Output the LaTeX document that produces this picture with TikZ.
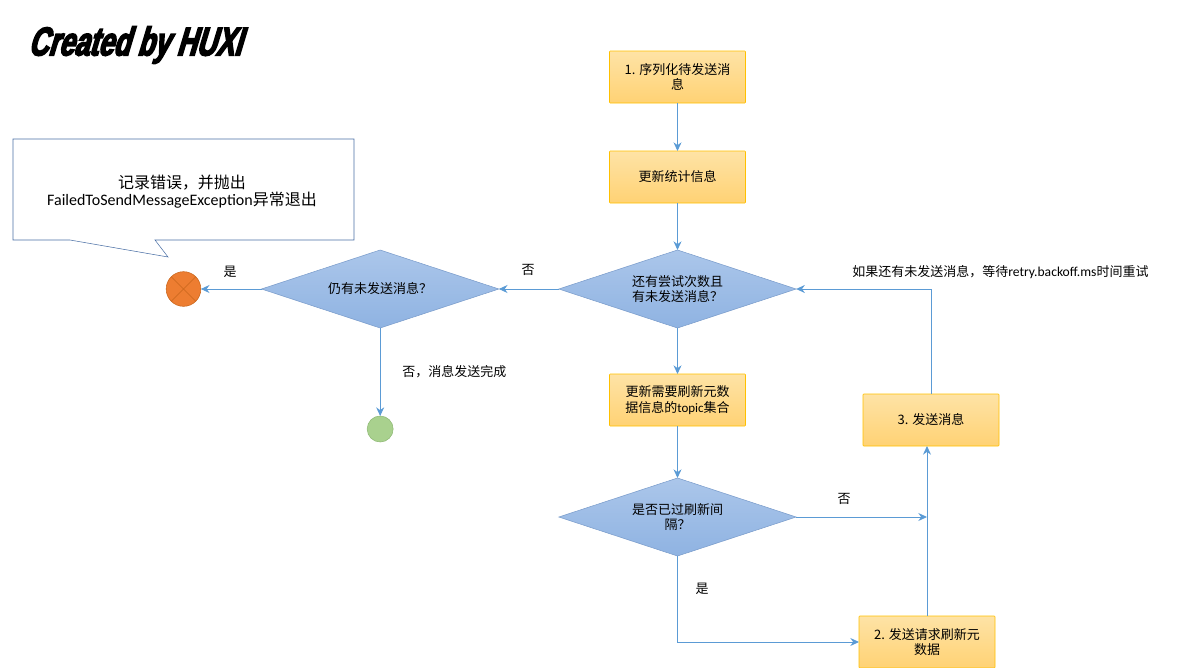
\documentclass[tikz,border=0pt]{standalone}
\usepackage{xcolor}
\usepackage{fontspec}
\usetikzlibrary{shapes.geometric, arrows.meta, positioning, calc}
\setmainfont{Carlito}
\newfontfamily\cjk{Noto Sans CJK SC}
\newfontfamily\titlefont[FakeSlant=0.3,FakeStretch=0.68,FakeBold=4]{Liberation Sans Bold}
\definecolor{boxtop}{HTML}{FEE3A6}
\definecolor{boxbottom}{HTML}{FFD274}
\definecolor{boxline}{HTML}{FFC000}
\definecolor{diatop}{HTML}{ABC6EA}
\definecolor{diabottom}{HTML}{8FB3E2}
\definecolor{dialine}{HTML}{7A9CCB}
\definecolor{linkblue}{HTML}{5B9BD5}
\definecolor{noteline}{HTML}{4A6FA5}
\definecolor{failorange}{HTML}{ED7D31}
\definecolor{failline}{HTML}{C8651B}
\definecolor{donegreen}{HTML}{A9D18E}
\definecolor{doneline}{HTML}{8DB873}

\begin{document}
\begin{tikzpicture}[
    x=0.75pt, y=-0.75pt,
    process/.style={rectangle, draw=boxline, top color=boxtop, bottom color=boxbottom, minimum width=102pt, minimum height=39pt, inner sep=0pt, outer sep=0pt, rounded corners=0.5pt, align=center, font=\cjk\fontsize{9.75}{11.8}\selectfont},
    decision/.style={diamond, draw=dialine, top color=diatop, bottom color=diabottom, minimum width=178pt, minimum height=58.5pt, aspect=3, inner sep=0pt, outer sep=0pt, align=center, font=\cjk\fontsize{9.75}{11}\selectfont},
    terminal/.style={circle, inner sep=0pt, outer sep=0pt},
    label/.style={font=\cjk\fontsize{9.75}{11.6}\selectfont, inner sep=0pt},
    arrow/.style={-{Stealth[length=6.5pt,width=6pt]}, draw=linkblue, line width=0.7pt}
]
\useasboundingbox (0,0) rectangle (1183,668);

% Title
\node[anchor=west, inner sep=0pt, font=\titlefont\fontsize{30}{32}\selectfont] (title) at (28,45) {Created by HUXI};

% Nodes
\node[process] (serialize) at (677.5,77) {1. 序列化待发送消\\息};
\node[process, below=36pt of serialize] (stats) {更新统计信息};
\node[decision, below=35.25pt of stats] (retry) {还有尝试次数且\\有未发送消息？};
\node[process, below=34.5pt of retry] (topics) {更新需要刷新元数\\据信息的{\rmfamily topic}集合};
\node[decision, below=39pt of topics] (interval) {是否已过刷新间\\隔？};
\node[process] (refresh) at (927,642) {2. 发送请求刷新元\\数据};
\node[process] (send) at (931,420) {3. 发送消息};
\node[decision, left=45pt of retry] (pending) {仍有未发送消息？};
\node[terminal, draw=failline, fill=failorange, minimum size=26pt, left=45.5pt of pending] (fail) {};
\node[terminal, draw=doneline, fill=donegreen, minimum size=19.5pt, below=66pt of pending] (done) {};

% Failure note
\draw[noteline, fill=white] (13,139) -- (354,139) -- (354,240) -- (155,240) -- (168,257) -- (70,240) -- (13,240) -- cycle;
\node[align=center, inner sep=0pt, font=\fontsize{12}{12.8}\selectfont] (note) at (182,192) {{\cjk 记录错误，并抛出}\\FailedToSendMessageException{\cjk 异常退出}};

% Cross in the failure circle
\draw[failline] (fail.north west) -- (fail.south east);
\draw[failline] (fail.north east) -- (fail.south west);

% Labels
\node[label] (lblPendingNo) at (528,270) {否};
\node[label] (lblFailYes) at (230,272) {是};
\node[label, anchor=west] (lblDone) at (402,372) {否，消息发送完成};
\node[label, anchor=west] (lblHint) at (852,272) {如果还有未发送消息，等待{\rmfamily\fontsize{10.2}{12}\selectfont retry.backoff.ms}时间重试};
\node[label] (lblSendNo) at (844,499) {否};
\node[label] (lblRefreshYes) at (702,589) {是};

% Arrows
\coordinate (joinSend) at (refresh.north |- interval.east);
\coordinate (intoSend) at (refresh.north |- send.south);
\draw[arrow] (serialize) -- (stats);
\draw[arrow] (stats) -- (retry);
\draw[arrow] (retry) -- (topics);
\draw[arrow] (topics) -- (interval);
\draw[arrow] (retry) -- (pending);
\draw[arrow] (pending) -- (fail);
\draw[arrow] (pending) -- (done);
\draw[arrow] (interval.south) |- (refresh.west);
\draw[arrow] (interval.east) -- (joinSend);
\draw[arrow] (refresh.north) -- (intoSend);
\draw[arrow] (send.north) |- (retry.east);

\end{tikzpicture}
\end{document}
